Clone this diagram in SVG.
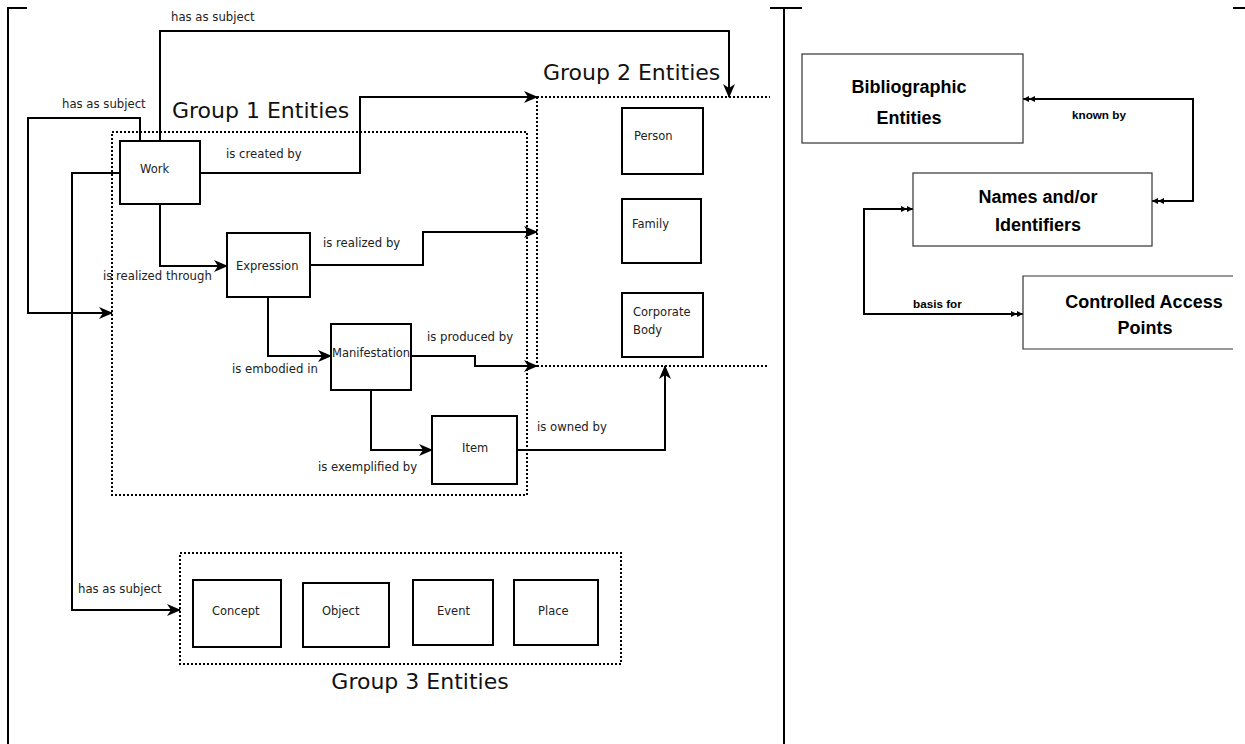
<svg xmlns="http://www.w3.org/2000/svg" width="1245" height="744" viewBox="0 0 1245 744">
<style>
.frame{stroke:#000;stroke-width:2;fill:none}
.conn{stroke:#000;stroke-width:2;fill:none;marker-end:url(#arr)}
.box{fill:#fff;stroke:#000;stroke-width:2}
.dot{stroke:#000;stroke-width:2;stroke-dasharray:2 2;fill:none}
.lbl{font-family:"DejaVu Sans",sans-serif;font-size:11.7px;fill:#222}
.ntx{font-family:"DejaVu Sans",sans-serif;font-size:11.5px;fill:#222}
.grp{font-family:"DejaVu Sans",sans-serif;font-size:22px;fill:#111}
.rbox{fill:#fff;stroke:#333;stroke-width:1.2}
.rtx{font-family:"Liberation Sans",Arial,sans-serif;font-weight:bold;font-size:18px;fill:#000;text-anchor:middle}
.rlbl{font-family:"Liberation Sans",Arial,sans-serif;font-weight:bold;font-size:11.7px;fill:#000}
.rconn{stroke:#000;stroke-width:2;fill:none;marker-start:url(#dbl);marker-end:url(#dbl)}
</style>
<defs>
<marker id="arr" viewBox="0 0 14 12" refX="13" refY="6" markerWidth="14" markerHeight="12" markerUnits="userSpaceOnUse" orient="auto"><path d="M0,0 L14,6 L0,12 L4,6 z" fill="#000"/></marker>
<marker id="dbl" viewBox="0 0 12 6" refX="12" refY="3" markerWidth="12" markerHeight="6" markerUnits="userSpaceOnUse" orient="auto-start-reverse"><path d="M0,0 L6,3 L0,6 z M6,0 L12,3 L6,6 z" fill="#000"/></marker>
</defs>
<rect width="1245" height="744" fill="#fff"/>
<g id="frame">
<path class="frame" d="M7,8 H27 M8,8 V744 M770,8 H802 M784,8 V744 M1233,8 H1245"/>
</g>
<g id="groups">
<rect class="dot" x="112" y="132" width="415" height="363"/>
<path class="dot" d="M537,97 H770 M537,97 V366 M537,366 H769"/>
<rect class="dot" x="180" y="553" width="441" height="111"/>
<text class="grp" x="172" y="118">Group 1 Entities</text>
<text class="grp" x="543" y="80">Group 2 Entities</text>
<text class="grp" x="420" y="689" text-anchor="middle">Group 3 Entities</text>
</g>
<g id="connectors">
<path class="conn" d="M160,141 V31 H729 V97"/>
<path class="conn" d="M140,141 V118 H28 V313 H112"/>
<path class="conn" d="M120,173 H72 V610 H180"/>
<path class="conn" d="M200,173 H360 V97 H537"/>
<path class="conn" d="M160,204 V266 H227"/>
<path class="conn" d="M310,265 H423 V232 H537"/>
<path class="conn" d="M268,297 V356 H331"/>
<path class="conn" d="M411,356 H475 V366 H537"/>
<path class="conn" d="M371,390 V450 H432"/>
<path class="conn" d="M517,450 H665 V366"/>
<path class="rconn" d="M1023,99 H1193 V201 H1152"/>
<path class="rconn" d="M913,209 H864 V314 H1023"/>
<text class="lbl" x="171" y="21">has as subject</text>
<text class="lbl" x="62" y="108">has as subject</text>
<text class="lbl" x="78" y="593">has as subject</text>
<text class="lbl" x="226" y="158">is created by</text>
<text class="lbl" x="323" y="247">is realized by</text>
<text class="lbl" x="103" y="280">is realized through</text>
<text class="lbl" x="232" y="373">is embodied in</text>
<text class="lbl" x="427" y="341">is produced by</text>
<text class="lbl" x="318" y="471">is exemplified by</text>
<text class="lbl" x="537" y="431">is owned by</text>
<text class="rlbl" x="1072" y="119">known by</text>
<text class="rlbl" x="913" y="308">basis for</text>
</g>
<g id="work"><rect class="box" x="120" y="141" width="80" height="63"/><text class="ntx" x="140" y="173">Work</text></g>
<g id="expression"><rect class="box" x="227" y="233" width="83" height="64"/><text class="ntx" x="236" y="270">Expression</text></g>
<g id="manifestation"><rect class="box" x="331" y="324" width="80" height="66"/><text class="ntx" x="332" y="357">Manifestation</text></g>
<g id="item"><rect class="box" x="432" y="416" width="85" height="68"/><text class="ntx" x="462" y="452">Item</text></g>
<g id="person"><rect class="box" x="622" y="108" width="81" height="66"/><text class="ntx" x="634" y="140">Person</text></g>
<g id="family"><rect class="box" x="622" y="199" width="79" height="64"/><text class="ntx" x="632" y="228">Family</text></g>
<g id="corporate"><rect class="box" x="622" y="293" width="81" height="64"/><text class="ntx" x="633" y="316">Corporate</text><text class="ntx" x="633" y="334">Body</text></g>
<g id="concept"><rect class="box" x="193" y="580" width="88" height="67"/><text class="ntx" x="212" y="615">Concept</text></g>
<g id="object"><rect class="box" x="303" y="583" width="86" height="64"/><text class="ntx" x="322" y="615">Object</text></g>
<g id="event"><rect class="box" x="413" y="580" width="80" height="65"/><text class="ntx" x="437" y="615">Event</text></g>
<g id="place"><rect class="box" x="514" y="580" width="84" height="65"/><text class="ntx" x="538" y="615">Place</text></g>
<g id="bibliographic"><rect class="rbox" x="802" y="54" width="221" height="89"/><text class="rtx" x="909" y="93">Bibliographic</text><text class="rtx" x="909" y="124">Entities</text></g>
<g id="names"><rect class="rbox" x="913" y="173" width="239" height="73"/><text class="rtx" x="1038" y="203">Names and/or</text><text class="rtx" x="1038" y="231">Identifiers</text></g>
<g id="controlled"><path class="rbox" d="M1233,276 H1023 V349 H1233" fill="#fff"/><text class="rtx" x="1144" y="308">Controlled Access</text><text class="rtx" x="1145" y="334">Points</text></g>
</svg>
